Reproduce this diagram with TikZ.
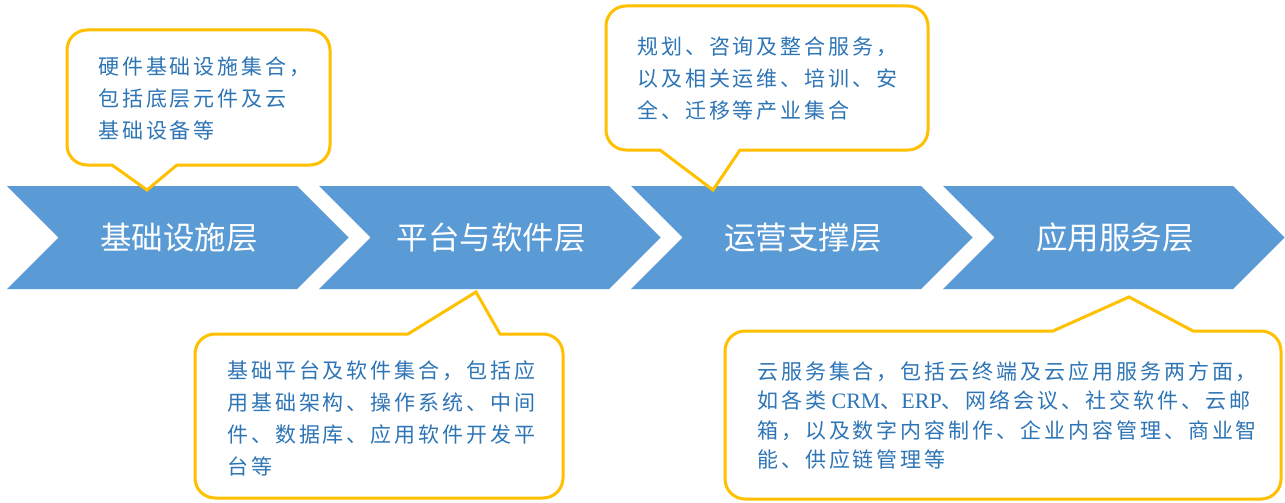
\documentclass[tikz,border=0pt]{standalone}
\usepackage{fontspec}
\newfontfamily\cjk{Noto Sans CJK SC}
\newfontfamily\cjknote[LetterSpace=14]{Noto Sans CJK SC}
\newfontfamily\latinserif{Liberation Serif}
\definecolor{layerblue}{HTML}{5B9BD5}
\definecolor{calloutgold}{HTML}{FFC000}
\definecolor{notetext}{HTML}{2E75B6}
\begin{document}
\begin{tikzpicture}[x=1pt,y=-1pt,
  layer/.style={fill=layerblue},
  layerlabel/.style={text=white,font=\cjk\fontsize{31.5}{36}\selectfont,inner sep=0},
  callout/.style={draw=calloutgold,line width=3pt,fill=white,line join=miter},
  note/.style={anchor=north west,inner sep=0,align=left,text=notetext,font=\cjknote\fontsize{21}{32}\selectfont}]
\useasboundingbox[fill=white] (0,0) rectangle (1285,503);

% four chevron layers
\foreach \i/\name/\txt in {0/infra/基础设施层,1/platform/平台与软件层,2/ops/运营支撑层,3/app/应用服务层} {
  \pgfmathsetmacro\x{7+312*\i}
  \fill[layer] (\x,186) -- ++(290,0) -- ++(51.5,51.5) -- ++(-51.5,51.5) -- ++(-290,0) -- ++(51.5,-51.5) -- cycle;
  \node[layerlabel] (\name) at (\x+172,237.5) {\txt};
}

% callout above the infrastructure layer
\draw[callout] (200,30) [rounded corners=20] -- (330,30) -- (330,165) -- (200,165)
  [sharp corners] -- (177,165) -- (147,190) -- (112,165) -- (95,165)
  [rounded corners=20] -- (67,165) -- (67,30) -- cycle;
\node[note] (infranote) at (98,57) {硬件基础设施集合，\\包括底层元件及云\\基础设备等};

% callout above the operations layer
\draw[callout] (760,6) [rounded corners=20] -- (928,6) -- (928,150) -- (770,150)
  [sharp corners] -- (740,150) -- (713,190) -- (660,150) -- (635,150)
  [rounded corners=20] -- (606,150) -- (606,6) -- cycle;
\node[note] (opsnote) at (637,37) {规划、咨询及整合服务，\\以及相关运维、培训、安\\全、迁移等产业集合};

% callout below the platform layer
\draw[callout] (300,498) [rounded corners=20] -- (195,498) -- (195,334) -- (380,334)
  [sharp corners] -- (408,334) -- (476,292) -- (500,334) -- (525,334)
  [rounded corners=20] -- (563,334) -- (563,498) -- cycle;
\node[note] (platformnote) at (227,360) {基础平台及软件集合，包括应\\用基础架构、操作系统、中间\\件、数据库、应用软件开发平\\台等};

% callout below the application layer
\draw[callout] (900,499) [rounded corners=20] -- (725,499) -- (725,331) -- (1020,331)
  [sharp corners] -- (1053,331) -- (1129,297) -- (1193,331) -- (1225,331)
  [rounded corners=20] -- (1281,331) -- (1281,499) -- cycle;
\node[note,font=\cjknote\fontsize{21}{29.5}\selectfont] (appnote) at (757,361) {云服务集合，包括云终端及云应用服务两方面，\\如各类{\latinserif\fontsize{22}{29.5}\selectfont\ CRM}、{\latinserif\fontsize{22}{29.5}\selectfont ERP}、网络会议、社交软件、云邮\\箱，以及数字内容制作、企业内容管理、商业智\\能、供应链管理等};
\end{tikzpicture}
\end{document}
